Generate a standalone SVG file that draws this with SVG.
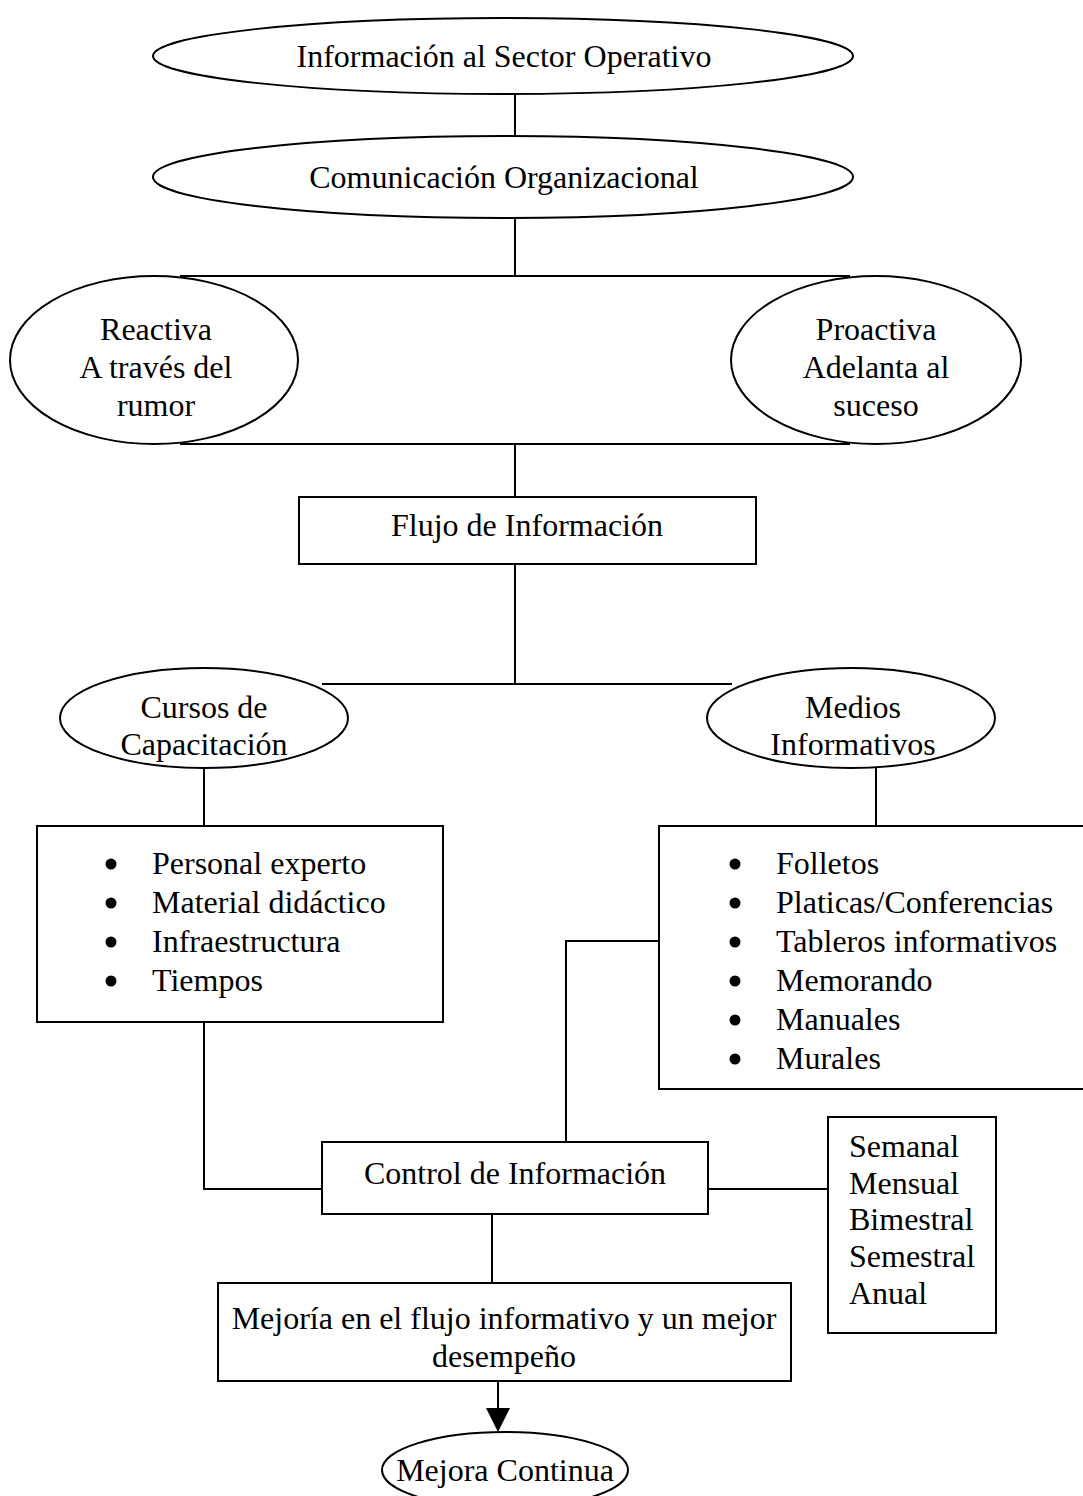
<svg xmlns="http://www.w3.org/2000/svg" width="1083" height="1496" viewBox="0 0 1083 1496" font-family="'Liberation Serif', 'Times New Roman', Tinos, 'DejaVu Serif', serif">
<style>
.s{fill:#fff;stroke:#000;stroke-width:2}
.c{fill:none;stroke:#000;stroke-width:2}
text{font-family:'Liberation Serif','Times New Roman',Tinos,'DejaVu Serif',serif;font-size:32px;fill:#000}
.m{text-anchor:middle}
</style>
<rect width="1083" height="1496" fill="#fff"/>
<g id="connectors">
<line class="c" x1="515" y1="94" x2="515" y2="137"/>
<line class="c" x1="515" y1="218" x2="515" y2="276"/>
<line class="c" x1="180" y1="276" x2="850" y2="276"/>
<line class="c" x1="180" y1="444" x2="850" y2="444"/>
<line class="c" x1="515" y1="444" x2="515" y2="497"/>
<line class="c" x1="515" y1="564" x2="515" y2="684"/>
<line class="c" x1="322" y1="684" x2="732" y2="684"/>
<line class="c" x1="204" y1="768" x2="204" y2="826"/>
<line class="c" x1="876" y1="768" x2="876" y2="826"/>
<polyline class="c" points="204,1022 204,1189 322,1189"/>
<polyline class="c" points="566,1142 566,941 659,941"/>
<line class="c" x1="708" y1="1189" x2="828" y2="1189"/>
<line class="c" x1="492" y1="1214" x2="492" y2="1283"/>
<line class="c" x1="498" y1="1381" x2="498" y2="1410"/>
<polygon points="486,1408 510,1408 498,1432" fill="#000"/>
</g>
<g id="n1"><ellipse class="s" cx="503" cy="56" rx="350" ry="38"/><text class="m" x="504" y="67">Información al Sector Operativo</text></g>
<g id="n2"><ellipse class="s" cx="503" cy="177" rx="350" ry="41"/><text class="m" x="504" y="188">Comunicación Organizacional</text></g>
<g id="n3"><ellipse class="s" cx="154" cy="360" rx="144" ry="84"/>
<text class="m" x="156" y="340">Reactiva</text><text class="m" x="156" y="378">A través del</text><text class="m" x="156" y="416">rumor</text></g>
<g id="n4"><ellipse class="s" cx="876" cy="360" rx="145" ry="84"/>
<text class="m" x="876" y="340">Proactiva</text><text class="m" x="876" y="378">Adelanta al</text><text class="m" x="876" y="416">suceso</text></g>
<g id="n5"><rect class="s" x="299" y="497" width="457" height="67"/><text class="m" x="527" y="536">Flujo de Información</text></g>
<g id="n6"><ellipse class="s" cx="204" cy="718" rx="144" ry="50"/>
<text class="m" x="204" y="718">Cursos de</text><text class="m" x="204" y="755">Capacitación</text></g>
<g id="n7"><ellipse class="s" cx="851" cy="718" rx="144" ry="50"/>
<text class="m" x="853" y="718">Medios</text><text class="m" x="853" y="755">Informativos</text></g>
<g id="n8"><rect class="s" x="37" y="826" width="406" height="196"/>
<g fill="#000"><circle cx="111" cy="864" r="5.5"/><circle cx="111" cy="903" r="5.5"/><circle cx="111" cy="942" r="5.5"/><circle cx="111" cy="981" r="5.5"/></g>
<text x="152" y="874">Personal experto</text><text x="152" y="913">Material didáctico</text><text x="152" y="952">Infraestructura</text><text x="152" y="991">Tiempos</text></g>
<g id="n9"><rect class="s" x="659" y="826" width="430" height="263"/>
<g fill="#000"><circle cx="735" cy="864" r="5.5"/><circle cx="735" cy="903" r="5.5"/><circle cx="735" cy="942" r="5.5"/><circle cx="735" cy="981" r="5.5"/><circle cx="735" cy="1020" r="5.5"/><circle cx="735" cy="1059" r="5.5"/></g>
<text x="776" y="874">Folletos</text><text x="776" y="913">Platicas/Conferencias</text><text x="776" y="952">Tableros informativos</text><text x="776" y="991">Memorando</text><text x="776" y="1030">Manuales</text><text x="776" y="1069">Murales</text></g>
<g id="n10"><rect class="s" x="322" y="1142" width="386" height="72"/><text class="m" x="515" y="1184">Control de Información</text></g>
<g id="n11"><rect class="s" x="828" y="1117" width="168" height="216"/>
<text x="849" y="1157">Semanal</text><text x="849" y="1194">Mensual</text><text x="849" y="1230">Bimestral</text><text x="849" y="1267">Semestral</text><text x="849" y="1304">Anual</text></g>
<g id="n12"><rect class="s" x="218" y="1283" width="573" height="98"/>
<text class="m" x="504" y="1329">Mejoría en el flujo informativo y un mejor</text><text class="m" x="504" y="1367">desempeño</text></g>
<g id="n13"><ellipse class="s" cx="505" cy="1470" rx="123" ry="38"/><text class="m" x="505" y="1481">Mejora Continua</text></g>
</svg>
